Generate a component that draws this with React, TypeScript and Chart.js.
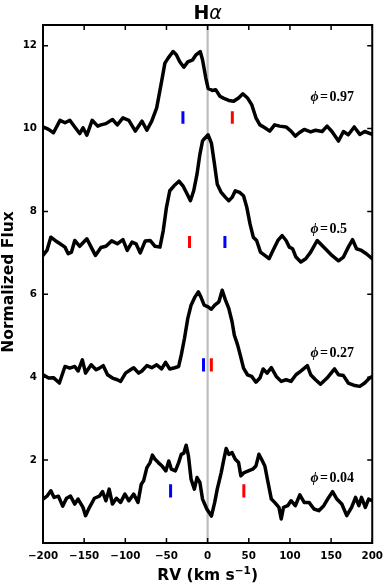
import { useEffect, useRef } from 'react';
import { Chart, registerables } from 'chart.js';

Chart.register(...registerables);

const xTicks = [-200, -150, -100, -50, 0, 50, 100, 150, 200];
const yTicks = [2, 4, 6, 8, 10, 12];

const rv097 = [-200, -193.2, -187.3, -179.3, -173.3, -167.4, -161.4, -155.4, -151.4, -146.7, -140.3, -133.5, -129.6, -123.6, -115.6, -109.7, -102.9, -95.7, -87.8, -79.8, -73.8, -67.9, -61.9, -55.9, -51.9, -48.0, -42.0, -38.0, -34.0, -28.9, -24.1, -18.1, -14.1, -9.0, -6.2, -2.2, 0.6, 5.8, 9.8, 14.9, 19.7, 25.7, 31.6, 37.6, 42.8, 48.4, 53.5, 58.7, 63.5, 69.5, 75.4, 81.4, 87.4, 95.3, 101.3, 106.5, 111.3, 117.3, 125.2, 131.1, 139.1, 145.1, 151.0, 159.0, 165.0, 170.9, 178.1, 184.9, 190.8, 200];
const flux097 = [10.04, 9.98, 9.9, 10.2, 10.14, 10.2, 10.04, 9.88, 10.02, 9.84, 10.2, 10.06, 10.09, 10.12, 10.22, 10.09, 10.26, 10.2, 9.94, 10.18, 9.96, 10.18, 10.5, 11.14, 11.58, 11.7, 11.86, 11.78, 11.62, 11.48, 11.61, 11.66, 11.78, 11.86, 11.66, 11.22, 10.97, 10.92, 10.94, 10.78, 10.73, 10.68, 10.66, 10.74, 10.84, 10.74, 10.58, 10.26, 10.09, 10.02, 9.94, 10.09, 10.06, 10.04, 9.94, 9.82, 9.9, 9.98, 9.92, 9.96, 9.93, 10.06, 9.93, 9.7, 9.93, 9.85, 10.04, 9.86, 9.93, 9.86];

const rv05 = [-200, -195.2, -190.5, -185.3, -179.3, -173.3, -169.4, -165.4, -161.4, -155.4, -146.7, -141.5, -136.3, -129.6, -123.6, -116.5, -109.7, -102.9, -97.7, -91.8, -87.0, -81.8, -75.8, -69.9, -63.9, -57.9, -53.9, -50.0, -46.0, -40.8, -34.8, -30.0, -24.9, -20.9, -16.9, -12.9, -9.4, -6.2, -4.2, 0.6, 4.6, 7.8, 11.7, 16.5, 21.7, 25.7, 29.7, 33.6, 38.8, 43.6, 47.6, 51.5, 55.5, 59.5, 64.2, 69.5, 74.6, 79.4, 85.4, 90.5, 95.3, 99.3, 103.3, 107.3, 113.2, 119.2, 125.2, 133.1, 139.1, 145.1, 151.0, 159.0, 165.0, 170.9, 176.1, 180.9, 186.9, 192.8, 200];
const flux05 = [6.94, 7.06, 7.38, 7.3, 7.22, 7.14, 6.98, 7.02, 7.3, 7.16, 7.34, 7.14, 6.94, 7.13, 7.16, 7.29, 7.22, 7.32, 7.06, 7.26, 7.22, 7.0, 7.29, 7.3, 7.16, 7.14, 7.54, 8.1, 8.5, 8.62, 8.73, 8.62, 8.42, 8.26, 8.5, 8.9, 9.38, 9.7, 9.75, 9.85, 9.65, 9.22, 8.66, 8.46, 8.34, 8.26, 8.34, 8.5, 8.46, 8.38, 8.1, 7.7, 7.38, 7.3, 7.02, 6.94, 6.86, 7.06, 7.3, 7.42, 7.3, 7.14, 7.1, 6.9, 6.78, 6.86, 7.02, 7.3, 7.18, 7.06, 6.94, 6.81, 6.9, 7.14, 7.32, 7.1, 7.06, 6.98, 6.86];

const rv027 = [-200, -193.2, -187.3, -180.1, -173.3, -167.4, -161.4, -157.4, -152.2, -148.3, -141.5, -135.5, -131.5, -126.8, -121.6, -115.6, -109.7, -105.7, -99.7, -93.7, -89.8, -83.8, -79.8, -73.8, -67.9, -61.9, -55.9, -51.1, -46.0, -40.0, -35.2, -32.0, -28.1, -24.1, -20.1, -15.3, -11.3, -8.2, -4.2, 0.6, 4.6, 8.6, 13.7, 17.7, 21.7, 25.7, 29.7, 32.4, 36.4, 39.6, 43.6, 48.4, 53.5, 58.7, 63.5, 67.5, 72.2, 77.4, 83.4, 89.4, 95.3, 101.3, 107.3, 113.2, 121.2, 125.2, 131.1, 137.1, 145.1, 154.2, 159.0, 165.0, 170.9, 178.9, 184.9, 190.8, 196.8, 200];
const flux027 = [4.06, 3.98, 3.99, 3.86, 4.26, 4.22, 4.26, 4.15, 4.42, 4.1, 4.3, 4.18, 4.22, 4.28, 4.06, 3.98, 3.94, 3.9, 4.1, 4.18, 4.23, 4.1, 4.15, 4.28, 4.23, 4.3, 4.2, 4.36, 4.2, 4.23, 4.26, 4.54, 4.94, 5.42, 5.74, 5.94, 6.06, 5.94, 5.74, 5.7, 5.64, 5.74, 5.82, 6.1, 5.86, 5.66, 5.34, 5.02, 4.78, 4.54, 4.22, 4.06, 4.02, 3.88, 3.98, 4.2, 4.1, 4.23, 4.02, 3.9, 3.94, 3.9, 4.06, 4.15, 4.28, 4.06, 3.94, 3.83, 3.98, 4.2, 4.06, 4.04, 3.86, 3.8, 3.78, 3.86, 3.98, 4.02];

const rv004 = [-200, -195.2, -190.5, -186.5, -181.3, -176.1, -171.4, -166.6, -161.4, -157.4, -151.4, -148.3, -143.5, -137.5, -131.5, -127.6, -123.6, -119.6, -115.6, -110.8, -105.7, -100.5, -95.7, -89.8, -84.6, -80.6, -77.8, -73.8, -69.9, -67.1, -63.9, -59.9, -55.1, -50.8, -47.2, -44.0, -39.2, -35.2, -32.0, -28.9, -26.1, -23.3, -20.1, -16.1, -12.9, -9.4, -6.2, -1.0, 4.6, 8.6, 11.7, 16.5, 19.7, 22.5, 25.7, 29.7, 33.6, 37.6, 40.4, 44.4, 49.6, 54.7, 58.7, 62.3, 65.5, 69.5, 73.4, 77.4, 81.4, 86.6, 89.4, 92.2, 97.3, 101.3, 106.5, 112.0, 117.3, 123.2, 129.2, 135.1, 141.1, 147.1, 151.8, 157.0, 163.0, 169.0, 174.9, 179.7, 183.7, 186.9, 191.6, 195.6, 200];
const flux004 = [1.06, 1.13, 1.26, 1.1, 1.13, 0.89, 1.08, 1.13, 0.94, 1.06, 0.86, 0.66, 0.86, 1.08, 1.13, 1.24, 1.02, 1.3, 0.94, 1.08, 0.98, 1.18, 1.02, 1.18, 0.98, 1.42, 1.5, 1.82, 1.94, 2.12, 2.02, 1.94, 1.85, 1.74, 1.98, 1.78, 1.74, 1.94, 2.14, 2.17, 2.36, 2.1, 1.54, 1.3, 1.58, 1.46, 1.06, 0.82, 0.65, 0.98, 1.3, 1.7, 2.02, 2.28, 2.14, 2.18, 2.02, 1.94, 1.62, 1.7, 1.74, 1.78, 1.86, 2.14, 2.02, 1.86, 1.46, 1.06, 0.98, 0.86, 0.58, 0.86, 0.9, 1.02, 0.9, 1.16, 0.98, 0.98, 0.82, 0.78, 0.9, 1.1, 1.24, 1.06, 0.94, 0.66, 0.86, 1.1, 0.9, 1.1, 0.86, 1.06, 1.02];

const phaseLabels = ['0.97', '0.5', '0.27', '0.04'];
const phaseLabelRV = 125;
const phaseLabelY = [10.66, 7.47, 4.5, 1.48];

const blueMarkRV = [-30, 21, -5, -45];
const redMarkRV = [30, -22, 4.5, 44];
const markLow = [10.12, 7.12, 4.14, 1.1];
const markHigh = [10.42, 7.41, 4.46, 1.42];

const FONT = '"DejaVu Sans", sans-serif';
const SERIF = '"Liberation Serif", "Times New Roman", serif';

function pts(xs: number[], ys: number[]) {
  return xs.map((x, i) => ({ x, y: ys[i] }));
}

const decorPlugin = {
  id: 'decor',
  afterDatasetsDraw(chart: any) {
    const { ctx, chartArea } = chart;
    const { left, right, top, bottom } = chartArea;
    const xs = chart.scales.x;
    const ys = chart.scales.y;
    ctx.save();
    ctx.strokeStyle = '#000';
    ctx.lineWidth = 2;
    ctx.strokeRect(left, top, right - left, bottom - top);
    ctx.lineWidth = 1.5;
    const tl = 5;
    ctx.beginPath();
    xTicks.forEach((v) => {
      const px = xs.getPixelForValue(v);
      ctx.moveTo(px, bottom);
      ctx.lineTo(px, bottom - tl);
      ctx.moveTo(px, top);
      ctx.lineTo(px, top + tl);
    });
    yTicks.forEach((v) => {
      const py = ys.getPixelForValue(v);
      ctx.moveTo(left, py);
      ctx.lineTo(left + tl, py);
      ctx.moveTo(right, py);
      ctx.lineTo(right - tl, py);
    });
    ctx.stroke();

    ctx.fillStyle = '#000';
    ctx.textBaseline = 'alphabetic';
    ctx.textAlign = 'left';
    phaseLabels.forEach((lab, i) => {
      const px = xs.getPixelForValue(phaseLabelRV);
      const py = ys.getPixelForValue(phaseLabelY[i]);
      ctx.font = `italic bold 14px ${SERIF}`;
      ctx.fillText('\u03d5', px, py);
      let w = ctx.measureText('\u03d5').width + 1.5;
      ctx.font = `bold 14px ${SERIF}`;
      ctx.fillText('=', px + w, py);
      w += ctx.measureText('=').width + 1.5;
      ctx.fillText(lab, px + w, py);
    });

    const cx = (left + right) / 2;
    ctx.font = `bold 19px ${FONT}`;
    const wH = ctx.measureText('H').width;
    ctx.font = `italic 19px ${FONT}`;
    const wA = ctx.measureText('\u03b1').width;
    let tx = cx - (wH + wA) / 2;
    ctx.font = `bold 19px ${FONT}`;
    ctx.fillText('H', tx, 18.5);
    ctx.font = `italic 19px ${FONT}`;
    ctx.fillText('\u03b1', tx + wH, 18.5);

    ctx.font = `bold 15.5px ${FONT}`;
    const p1 = 'RV (km s';
    const w1 = ctx.measureText(p1).width;
    ctx.font = `bold 10.5px ${FONT}`;
    const sup = '\u22121';
    const w2 = ctx.measureText(sup).width;
    ctx.font = `bold 15.5px ${FONT}`;
    const w3 = ctx.measureText(')').width;
    tx = cx - (w1 + w2 + w3) / 2;
    const by = 580;
    ctx.fillText(p1, tx, by);
    ctx.font = `bold 10.5px ${FONT}`;
    ctx.fillText(sup, tx + w1, by - 6);
    ctx.font = `bold 15.5px ${FONT}`;
    ctx.fillText(')', tx + w1 + w2, by);

    ctx.translate(9, 282);
    ctx.rotate(-Math.PI / 2);
    ctx.textAlign = 'center';
    ctx.textBaseline = 'middle';
    ctx.font = `bold 15.5px ${FONT}`;
    ctx.fillText('Normalized Flux', 0, 0);
    ctx.restore();
  },
};

export default function App() {
  const ref = useRef<HTMLCanvasElement | null>(null);
  useEffect(() => {
    if (!ref.current) return;
    const lineDs = (xs: number[], ys: number[]) => ({
      data: pts(xs, ys),
      borderColor: '#000',
      borderWidth: 3.5,
      pointRadius: 0,
      tension: 0,
      borderJoinStyle: 'round' as const,
      borderCapStyle: 'round' as const,
    });
    const markDs = (rv: number, lo: number, hi: number, color: string) => ({
      data: [
        { x: rv, y: lo },
        { x: rv, y: hi },
      ],
      borderColor: color,
      borderWidth: 3,
      pointRadius: 0,
    });
    const marks: any[] = [];
    for (let i = 0; i < blueMarkRV.length; i++) {
      marks.push(markDs(blueMarkRV[i], markLow[i], markHigh[i], '#0000ff'));
      marks.push(markDs(redMarkRV[i], markLow[i], markHigh[i], '#ff0000'));
    }
    const chart = new Chart(ref.current, {
      type: 'line',
      data: {
        datasets: [
          ...marks,
          lineDs(rv097, flux097),
          lineDs(rv05, flux05),
          lineDs(rv027, flux027),
          lineDs(rv004, flux004),
          {
            data: [
              { x: 0, y: 0 },
              { x: 0, y: 12.5 },
            ],
            borderColor: '#bdbdbd',
            borderWidth: 2.2,
            pointRadius: 0,
          },
        ],
      },
      options: {
        animation: false,
        responsive: true,
        maintainAspectRatio: false,
        devicePixelRatio: 1,
        layout: { padding: { top: 25, right: 12.5, left: 0, bottom: 0 } },
        plugins: {
          legend: { display: false },
          tooltip: { enabled: false },
          title: { display: false },
        },
        scales: {
          x: {
            type: 'linear',
            min: -200,
            max: 200,
            grid: { display: false, drawTicks: false },
            border: { display: false },
            afterBuildTicks: (s: any) => {
              s.ticks = xTicks.map((v) => ({ value: v }));
            },
            afterFit: (s: any) => {
              s.height = 43;
            },
            ticks: {
              autoSkip: false,
              maxRotation: 0,
              padding: 7,
              color: '#000',
              font: { family: FONT, weight: 'bold', size: 10.3 },
              callback: (v: any) => String(v).replace('-', '\u2212'),
            },
          },
          y: {
            type: 'linear',
            min: 0,
            max: 12.5,
            grid: { display: false, drawTicks: false },
            border: { display: false },
            afterBuildTicks: (s: any) => {
              s.ticks = yTicks.map((v) => ({ value: v }));
            },
            afterFit: (s: any) => {
              s.width = 43;
            },
            ticks: {
              autoSkip: false,
              padding: 6,
              color: '#000',
              font: { family: FONT, weight: 'bold', size: 10.3 },
            },
          },
        },
      },
      plugins: [decorPlugin],
    });
    return () => chart.destroy();
  }, []);
  return (
    <div style={{ position: 'absolute', left: 0, top: 0, width: 390, height: 586, background: '#fff' }}>
      <canvas ref={ref} />
    </div>
  );
}
